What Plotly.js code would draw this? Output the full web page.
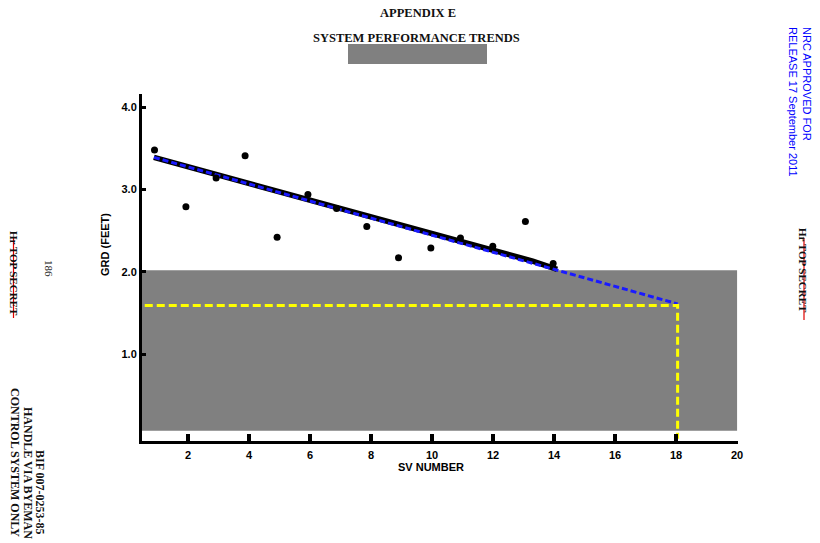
<!DOCTYPE html>
<html>
<head>
<meta charset="utf-8">
<script src="https://cdn.plot.ly/plotly-3.0.1.min.js"></script>
<style>html,body{margin:0;padding:0;background:#fff;}#chart{width:820px;height:543px;}</style>
</head>
<body>
<div id="chart"></div>
<script>
// ---- data ----
var svNumber = [0.9, 1.93, 2.92, 3.87, 4.92, 5.93, 6.87, 7.86, 8.9, 9.96, 10.93, 11.99, 13.06, 13.97];
var grdFeet  = [3.48, 2.79, 3.14, 3.41, 2.42, 2.94, 2.77, 2.55, 2.17, 2.29, 2.41, 2.31, 2.61, 2.10];
var trendX = [0.88, 13.3, 14.1];
var trendY = [3.39, 2.13, 2.03];
var projX = [0.88, 18.05];
var projY = [3.39, 1.61];
var limitX = [0.58, 18.05, 18.05];
var limitY = [1.59, 1.59, -0.03];
var xTicks = [2, 4, 6, 8, 10, 12, 14, 16, 18, 20];
var yTicks = [1, 2, 3, 4];
var yTickText = ['1.0', '2.0', '3.0', '4.0'];

// ---- layout helpers (pixel -> paper) ----
var M = {l: 142, r: 82, t: 94, b: 102};
var W = 820 - M.l - M.r, H = 543 - M.t - M.b;
function px(x) { return (x - M.l) / W; }
function py(y) { return (543 - M.b - y) / H; }

var serifBold = {family: 'Liberation Serif, serif', size: 11, color: '#111', weight: 'bold'};
var titleFont = {family: 'Liberation Serif, serif', size: 12.5, color: '#111', weight: 'bold'};
var blockFont = {family: 'Liberation Serif, serif', size: 12, color: '#111', weight: 'bold'};
var sansBold = {family: 'Liberation Sans, Arial, sans-serif', size: 11, color: '#000', weight: 'bold'};

var traces = [
  {x: trendX, y: trendY, mode: 'lines', line: {color: '#000', width: 5.5}, hoverinfo: 'skip'},
  {x: projX, y: projY, mode: 'lines', line: {color: '#1a1aff', width: 3, dash: '6px,3px'}, hoverinfo: 'skip'},
  {x: limitX, y: limitY, mode: 'lines', line: {color: '#ffff00', width: 3, dash: '8px,4px'}, hoverinfo: 'skip'},
  {x: svNumber, y: grdFeet, mode: 'markers', marker: {color: '#000', size: 7}}
];

function ann(text, x, y, angle, font, align) {
  return {text: text, xref: 'paper', yref: 'paper', x: px(x), y: py(y), xanchor: 'center', yanchor: 'middle',
          textangle: angle, showarrow: false, font: font, align: align || 'center'};
}

var layout = {
  width: 820, height: 543,
  margin: M,
  paper_bgcolor: '#fff', plot_bgcolor: '#fff',
  showlegend: false,
  xaxis: {
    range: [0.49, 20.03], tickvals: xTicks, ticks: 'inside', ticklen: 7, tickwidth: 4, tickcolor: '#000',
    showline: true, linecolor: '#000', linewidth: 3, showgrid: false, zeroline: false,
    tickfont: sansBold, ticklabelstandoff: 2
  },
  yaxis: {
    range: [-0.056, 4.16], tickvals: yTicks, ticktext: yTickText, ticks: 'inside', ticklen: 4, tickwidth: 3, tickcolor: '#000',
    showline: true, linecolor: '#000', linewidth: 3, showgrid: false, zeroline: false,
    tickfont: sansBold
  },
  shapes: [
    {type: 'rect', layer: 'below', xref: 'x', yref: 'y', x0: 0.49, x1: 20.0, y0: 0.07, y1: 2.02, fillcolor: '#808080', line: {width: 0}},
    {type: 'rect', xref: 'paper', yref: 'paper', x0: px(348), x1: px(487), y0: py(64), y1: py(44), fillcolor: '#808080', line: {width: 0}},
    {type: 'line', xref: 'paper', yref: 'paper', x0: px(13.5), x1: px(13.5), y0: py(237), y1: py(318), line: {color: '#e00000', width: 1.2}},
    {type: 'line', xref: 'paper', yref: 'paper', x0: px(804), x1: px(804), y0: py(238), y1: py(320), line: {color: '#e00000', width: 1.2}}
  ],
  annotations: [
    ann('APPENDIX E', 418, 13, 0, titleFont),
    ann('SYSTEM PERFORMANCE TRENDS', 416, 38, 0, titleFont),
    ann('GRD (FEET)', 105, 245, -90, sansBold),
    ann('SV NUMBER', 431, 467, 0, sansBold),
    ann('186', 49, 268, 90, {family: 'Liberation Serif, serif', size: 11, color: '#222'}),
    ann('Hr TOP SECRET', 14, 273, 90, serifBold),
    ann('Hr TOP SECRET', 803, 270, 90, serifBold),
    ann('BIF 007-0253-85', 40, 492, 90, blockFont),
    ann('HANDLE VIA BYEMAN', 28, 473, 90, blockFont),
    ann('CONTROL SYSTEM ONLY', 15, 462, 90, blockFont),
    ann('NRC APPROVED FOR<br>RELEASE 17 September 2011', 800, 102, 90, {family: 'Liberation Sans, Arial, sans-serif', size: 11, color: '#0000ff'}, 'left')
  ]
};

Plotly.newPlot('chart', traces, layout, {displayModeBar: false, staticPlot: true});
</script>
</body>
</html>
